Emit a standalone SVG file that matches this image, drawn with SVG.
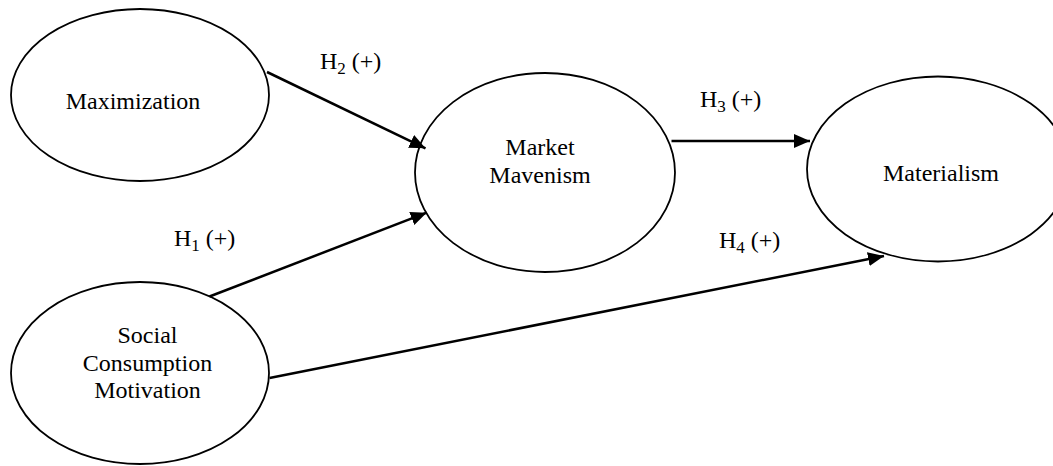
<svg xmlns="http://www.w3.org/2000/svg" width="1053" height="466" viewBox="0 0 1053 466">
<style>
.node{fill:#fff;stroke:#000;stroke-width:1.8}
.t{font-family:"Liberation Serif","Times New Roman",serif;font-size:24px;fill:#000;text-anchor:middle}
.lbl{font-family:"Liberation Serif","Times New Roman",serif;font-size:24px;fill:#000}
.sub{font-size:17px}
.edge{stroke:#000;stroke-width:2.5;fill:none;marker-end:url(#ah)}
</style>
<defs>
<marker id="ah" markerUnits="userSpaceOnUse" markerWidth="17" markerHeight="15" refX="16" refY="7" orient="auto">
<path d="M0,0 L16,7 L0,14 z" fill="#000"/>
</marker>
</defs>
<rect width="1053" height="466" fill="#fff"/>
<g id="maximization">
<ellipse class="node" cx="140" cy="95" rx="129" ry="86"/>
<text class="t" x="133" y="109">Maximization</text>
</g>
<g id="market-mavenism">
<ellipse class="node" cx="545" cy="172.5" rx="130" ry="99.5"/>
<text class="t" x="540" y="155">Market</text>
<text class="t" x="540" y="183">Mavenism</text>
</g>
<g id="materialism">
<ellipse class="node" cx="938" cy="169" rx="131" ry="92.5"/>
<text class="t" x="941" y="181">Materialism</text>
</g>
<g id="social-consumption-motivation">
<ellipse class="node" cx="140" cy="373" rx="129" ry="91"/>
<text class="t" x="147.5" y="343">Social</text>
<text class="t" x="147.5" y="371">Consumption</text>
<text class="t" x="147.5" y="398">Motivation</text>
</g>
<g id="connectors">
<line class="edge" x1="267" y1="72" x2="425.5" y2="148.3"/>
<line class="edge" x1="671.5" y1="141" x2="810" y2="141"/>
<line class="edge" x1="209.5" y1="296.5" x2="426.7" y2="212.7"/>
<line class="edge" x1="269.5" y1="378" x2="884" y2="256"/>
</g>
<g id="labels">
<text class="lbl" x="320" y="69">H<tspan class="sub" dy="5">2</tspan><tspan dy="-5"> (+)</tspan></text>
<text class="lbl" x="700" y="107">H<tspan class="sub" dy="5">3</tspan><tspan dy="-5"> (+)</tspan></text>
<text class="lbl" x="174" y="246">H<tspan class="sub" dy="5">1</tspan><tspan dy="-5"> (+)</tspan></text>
<text class="lbl" x="719" y="248">H<tspan class="sub" dy="5">4</tspan><tspan dy="-5"> (+)</tspan></text>
</g>
</svg>
